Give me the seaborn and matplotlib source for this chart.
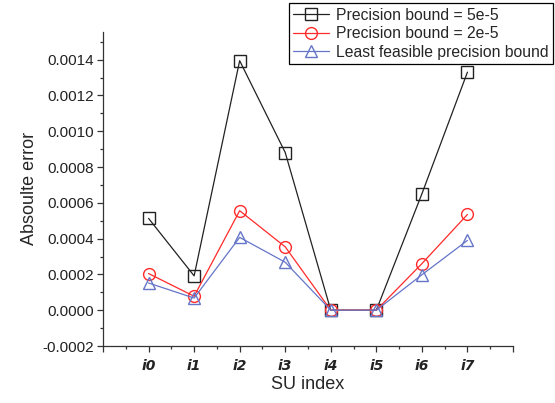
import matplotlib
matplotlib.use("Agg")
import matplotlib.pyplot as plt
import numpy as np
import pandas as pd
import seaborn as sns
from matplotlib.ticker import MultipleLocator, FixedLocator

# Data

su_labels = ["i0", "i1", "i2", "i3", "i4", "i5", "i6", "i7"]
bound_5e5 = [0.000513, 0.000192, 0.001394, 0.000881, 0.0, 0.0, 0.00065, 0.00133]
bound_2e5 = [0.000205, 0.000078, 0.000556, 0.000354, 0.0, 0.0, 0.00026, 0.000535]
least_bound = [0.000152, 0.000068, 0.000407, 0.000268, 0.0, 0.0, 0.000198, 0.00039]

series_names = ["Precision bound = 5e-5", "Precision bound = 2e-5",
                "Least feasible precision bound"]

sns.set_style("ticks")
plt.rcParams["font.family"] = ["Liberation Sans", "DejaVu Sans"]

df = pd.DataFrame({
    "pos": np.tile(np.arange(len(su_labels)), 3),
    "err": bound_5e5 + bound_2e5 + least_bound,
    "series": np.repeat(series_names, len(su_labels)),
})

colors = {series_names[0]: "#222222", series_names[1]: "#ff2a2a",
          series_names[2]: "#6575c8"}
markers = {series_names[0]: "s", series_names[1]: "o", series_names[2]: "^"}

fig = plt.figure(figsize=(5.55, 4.03), dpi=100)
ax = fig.add_axes([0.1856, 0.1414, 0.7387, 0.7799])

for name in series_names:
    sub = df[df["series"] == name]
    sns.lineplot(data=sub, x="pos", y="err", ax=ax, color=colors[name],
                 marker=markers[name], markersize=8.5, markerfacecolor="none",
                 markeredgecolor=colors[name], markeredgewidth=1.0,
                 linewidth=0.9, label=name)

ax.set_xlim(-1, 8)
ax.set_ylim(-0.0002, 0.000156 + 0.0014)

ax.xaxis.set_major_locator(FixedLocator(list(range(-1, 9))))
ax.set_xticklabels([""] + su_labels + [""], family=["Liberation Sans Narrow", "DejaVu Sans"],
                   style="italic", weight="bold", fontsize=10)
ax.xaxis.set_minor_locator(MultipleLocator(0.5))
ax.yaxis.set_major_locator(MultipleLocator(0.0002))
ax.yaxis.set_minor_locator(MultipleLocator(0.0001))
ax.yaxis.set_major_formatter(matplotlib.ticker.FuncFormatter(lambda v, p: f"{v:.4f}"))

ax.tick_params(axis="both", which="major", length=4.5, width=0.9, colors="#333333",
               labelcolor="#222222")
ax.tick_params(axis="both", which="minor", length=2.5, width=0.9, colors="#333333")
ax.tick_params(axis="y", labelsize=11, pad=2)
ax.tick_params(axis="x", pad=5)

for side in ["top", "right"]:
    ax.spines[side].set_visible(False)
for side in ["left", "bottom"]:
    ax.spines[side].set_linewidth(0.9)
    ax.spines[side].set_color("#333333")

ax.set_xlabel("SU index", fontsize=13, labelpad=2)
ax.set_ylabel("Absoulte error", fontsize=13, labelpad=3)

leg = ax.legend(loc="upper right", bbox_to_anchor=(553 / 555, 1 - 3 / 403),
                bbox_transform=fig.transFigure, fontsize=11.3, frameon=True,
                fancybox=False, edgecolor="black", framealpha=1,
                handlelength=2.3, borderpad=0.3, labelspacing=0.22,
                handletextpad=0.4, borderaxespad=0)
leg.get_frame().set_linewidth(0.9)

fig.savefig("out.png", dpi=100)
